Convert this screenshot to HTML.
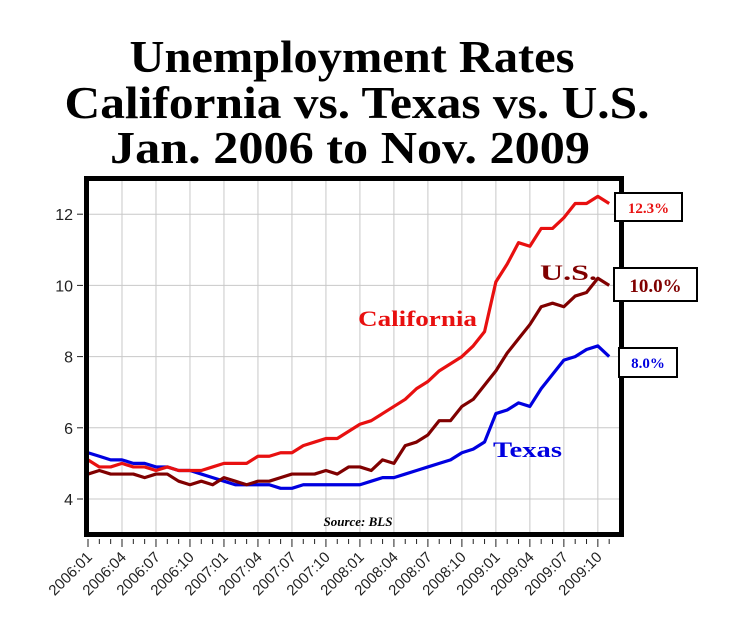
<!DOCTYPE html>
<html><head><meta charset="utf-8"><style>
html,body{margin:0;padding:0;background:#fff;}
</style></head><body>
<svg id="s" width="737" height="637" xmlns="http://www.w3.org/2000/svg" style="display:block">
<rect width="737" height="637" fill="#fff"/>
<g font-family="Liberation Serif, serif" font-weight="bold" font-size="46" text-anchor="middle" fill="#000">
<text x="352" y="72" textLength="445" lengthAdjust="spacingAndGlyphs">Unemployment Rates</text>
<text x="357" y="118" textLength="585" lengthAdjust="spacingAndGlyphs">California vs. Texas vs. U.S.</text>
<text x="350" y="163" textLength="480" lengthAdjust="spacingAndGlyphs">Jan. 2006 to Nov. 2009</text>
</g>
<g id="grid" stroke="#c8c8c8" stroke-width="1"></g>
<g id="lines" fill="none" stroke-width="3.2" stroke-linejoin="round"></g>
<rect x="86.5" y="178.5" width="535" height="356" fill="none" stroke="#000" stroke-width="5"/>
<g id="ax" font-family="Liberation Sans, sans-serif" fill="#222"></g>
<g font-family="Liberation Serif, serif" font-weight="bold">
<text x="358" y="326" font-size="22" fill="#e81010" textLength="119" lengthAdjust="spacingAndGlyphs">California</text>
<text x="540" y="280" font-size="22" fill="#800000" textLength="57" lengthAdjust="spacingAndGlyphs">U.S.</text>
<text x="493" y="457" font-size="22" fill="#0000e0" textLength="69" lengthAdjust="spacingAndGlyphs">Texas</text>
<text x="358" y="526" font-size="13" font-style="italic" fill="#000" text-anchor="middle">Source: BLS</text>
<rect x="615" y="193" width="67" height="28" fill="#fff" stroke="#000" stroke-width="2"/>
<text x="648.5" y="213" font-size="15" fill="#e81010" text-anchor="middle">12.3%</text>
<rect x="614" y="268" width="83" height="33" fill="#fff" stroke="#000" stroke-width="2"/>
<text x="655.5" y="292" font-size="19" fill="#800000" text-anchor="middle">10.0%</text>
<rect x="619" y="348" width="58" height="29" fill="#fff" stroke="#000" stroke-width="2"/>
<text x="648" y="368" font-size="15" fill="#0000e0" text-anchor="middle">8.0%</text>
</g>
</svg>
<script>
var NS="http://www.w3.org/2000/svg";
function el(p,t,a,txt){var e=document.createElementNS(NS,t);for(var k in a)e.setAttribute(k,a[k]);if(txt!=null)e.textContent=txt;p.appendChild(e);return e;}
function X(i){return 88+i*11.33;}
function Y(v){return 499-(v-4)*35.6;}
var g=document.getElementById('grid'),ax=document.getElementById('ax'),L=document.getElementById('lines');
for(var i=0;i<47;i+=3){el(g,'line',{x1:X(i),x2:X(i),y1:180,y2:533});}
[4,6,8,10,12].forEach(function(v){el(g,'line',{x1:89,x2:619,y1:Y(v),y2:Y(v)});
el(ax,'line',{x1:77,x2:83,y1:Y(v),y2:Y(v),stroke:'#222'});
el(ax,'text',{x:73,y:Y(v)+6,'text-anchor':'end','font-size':16},String(v));});
for(var i=0;i<47;i++){var big=i%3==0;el(ax,'line',{x1:X(i),x2:X(i),y1:539,y2:big?547:544,stroke:'#222'});
if(big){var yr=2006+Math.floor(i/12),m=i%12+1;var lab=yr+':'+(m<10?'0':'')+m;
var x=X(i)+5,y=558;el(ax,'text',{x:x,y:y,'text-anchor':'end','font-size':15,transform:'rotate(-45 '+x+' '+y+')'},lab);}}
var US=[4.7,4.8,4.7,4.7,4.7,4.6,4.7,4.7,4.5,4.4,4.5,4.4,4.6,4.5,4.4,4.5,4.5,4.6,4.7,4.7,4.7,4.8,4.7,4.9,4.9,4.8,5.1,5.0,5.5,5.6,5.8,6.2,6.2,6.6,6.8,7.2,7.6,8.1,8.5,8.9,9.4,9.5,9.4,9.7,9.8,10.2,10.0];
var CA=[5.1,4.9,4.9,5.0,4.9,4.9,4.8,4.9,4.8,4.8,4.8,4.9,5.0,5.0,5.0,5.2,5.2,5.3,5.3,5.5,5.6,5.7,5.7,5.9,6.1,6.2,6.4,6.6,6.8,7.1,7.3,7.6,7.8,8.0,8.3,8.7,10.1,10.6,11.2,11.1,11.6,11.6,11.9,12.3,12.3,12.5,12.3];
var TX=[5.3,5.2,5.1,5.1,5.0,5.0,4.9,4.9,4.8,4.8,4.7,4.6,4.5,4.4,4.4,4.4,4.4,4.3,4.3,4.4,4.4,4.4,4.4,4.4,4.4,4.5,4.6,4.6,4.7,4.8,4.9,5.0,5.1,5.3,5.4,5.6,6.4,6.5,6.7,6.6,7.1,7.5,7.9,8.0,8.2,8.3,8.0];
function pl(d,c){el(L,'polyline',{stroke:c,points:d.map(function(v,i){return X(i)+','+Y(v);}).join(' ')});}
pl(TX,'#0000e0');pl(US,'#800000');pl(CA,'#e81010');
</script>
</body></html>
